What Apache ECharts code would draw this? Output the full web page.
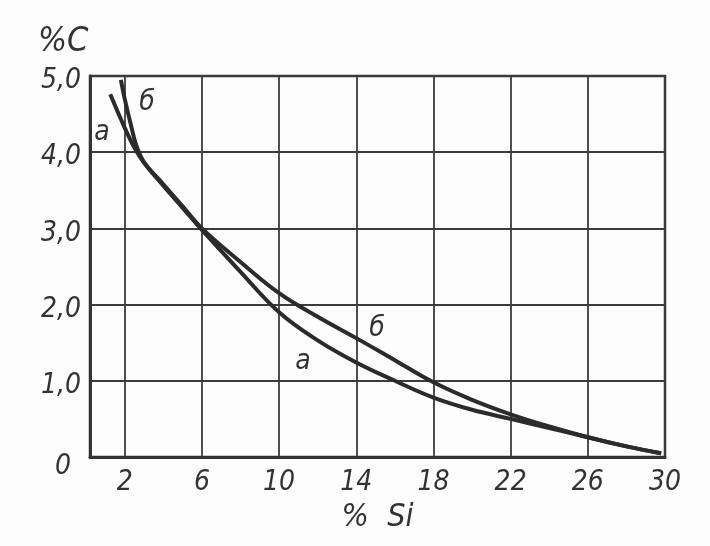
<!DOCTYPE html>
<html>
<head>
<meta charset="utf-8">
<script src="https://cdn.jsdelivr.net/npm/echarts@6/dist/echarts.min.js"></script>
<style>
html,body{margin:0;padding:0;background:#fdfdfd;}
#c{width:710px;height:546px;}
</style>
</head>
<body>
<div id="c"></div>
<script>
// % Si values and % C values
const xTicks = [2, 6, 10, 14, 18, 22, 26, 30];
const yTicks = [0, 1, 2, 3, 4, 5];
const siA = [1.25, 2.0, 2.5, 3.0, 4.0, 5.0, 6.0, 8.0, 10.0, 12.0, 14.0, 16.0, 18.0, 20.0, 22.0, 24.0, 26.0, 28.0, 29.8];
const cA  = [4.76, 4.32, 4.06, 3.86, 3.56, 3.27, 2.98, 2.43, 1.90, 1.53, 1.24, 1.00, 0.78, 0.62, 0.50, 0.38, 0.26, 0.14, 0.05];
const siB = [1.8, 2.0, 2.3, 2.6, 3.0, 4.0, 5.0, 6.0, 8.0, 10.0, 12.0, 14.0, 16.0, 18.0, 20.0, 22.0, 24.0, 26.0, 28.0, 29.8];
const cB  = [4.95, 4.70, 4.38, 4.09, 3.87, 3.58, 3.29, 3.00, 2.56, 2.15, 1.84, 1.56, 1.27, 0.98, 0.75, 0.56, 0.40, 0.26, 0.14, 0.05];
const curveNames = ['а', 'б'];
const labelsA = [[0.82, 4.25], [11.24, 1.25]];
const labelsB = [[3.15, 4.65], [15.08, 1.69]];

const FONT = '"Liberation Sans Narrow", "DejaVu Sans Condensed", "Liberation Sans", sans-serif';
const INK = '#333333';

function pairs(xs, ys){ return xs.map((x,i)=>[x, ys[i]]); }
function marks(list, name){
  return {
    symbol: 'circle', symbolSize: 0, silent: true,
    label: {show: true, formatter: name, color: INK, fontSize: 28, fontStyle: 'italic', fontFamily: FONT, position: 'inside'},
    data: list.map(c => ({coord: c, value: name}))
  };
}

const chart = echarts.init(document.getElementById('c'), null, {renderer: 'canvas'});
chart.setOption({
  backgroundColor: '#fdfdfd',
  animation: false,
  grid: {left: 90, top: 76, right: 45, bottom: 89, show: true, borderColor: INK, borderWidth: 2.5, backgroundColor: 'transparent'},
  title: {text: '%C', left: 33, top: 20, textStyle: {color: INK, fontSize: 34, fontStyle: 'italic', fontWeight: 'normal', fontFamily: FONT}},
  xAxis: {
    type: 'value', min: 0.2, max: 30,
    name: '%  Si', nameLocation: 'middle', nameGap: 42,
    nameTextStyle: {color: INK, fontSize: 32, fontStyle: 'italic', fontFamily: FONT},
    axisLine: {show: true, onZero: false, lineStyle: {color: INK, width: 3}},
    axisTick: {show: false, customValues: xTicks},
    axisLabel: {customValues: xTicks, color: INK, fontSize: 28, fontStyle: 'italic', fontFamily: FONT, margin: 12},
    splitLine: {show: true, lineStyle: {color: '#3c3c3c', width: 1.8}}
  },
  yAxis: {
    type: 'value', min: 0, max: 5, interval: 1,
    axisLine: {show: true, onZero: false, lineStyle: {color: INK, width: 3}},
    axisTick: {show: false},
    axisLabel: {
      color: INK, fontSize: 28, fontStyle: 'italic', fontFamily: FONT, margin: 9,
      padding: [10, 0, 0, 0],
      formatter: v => v === 0 ? '{z|0}' : v.toFixed(1).replace('.', ','),
      rich: {z: {color: INK, fontSize: 28, fontStyle: 'italic', fontFamily: FONT, padding: [10, 10, 0, 0]}}
    },
    splitLine: {show: true, lineStyle: {color: '#3c3c3c', width: 1.8}}
  },
  series: [
    {name: curveNames[0], type: 'line', data: pairs(siA, cA), smooth: 0.4, symbol: 'none',
     lineStyle: {color: '#2b2b2b', width: 4}, markPoint: marks(labelsA, curveNames[0]), z: 3},
    {name: curveNames[1], type: 'line', data: pairs(siB, cB), smooth: 0.4, symbol: 'none',
     lineStyle: {color: '#2b2b2b', width: 4}, markPoint: marks(labelsB, curveNames[1]), z: 3}
  ]
});
</script>
</body>
</html>
